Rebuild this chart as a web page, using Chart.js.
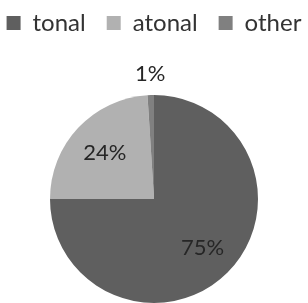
<!DOCTYPE html>
<html>
<head>
<meta charset="utf-8">
<script src="https://cdn.jsdelivr.net/npm/chart.js@4"></script>
<style>
  html, body { margin: 0; padding: 0; background: #fff; }
  #wrap { width: 308px; height: 303px; }
</style>
</head>
<body>
<div id="wrap"><canvas id="pieChart" width="308" height="303"></canvas></div>
<script>
// data
const categories = ["tonal", "atonal", "other"];
const shares = [75, 24, 1];
const sliceColors = ["#5f5f5f", "#b1b1b1", "#808080"];

// make the legend box taller so the pie starts lower down
const tallLegend = {
  id: "tallLegend",
  beforeInit(chart) {
    const fit = chart.legend.fit;
    chart.legend.fit = function () {
      fit.call(this);
      this.height = 105;
    };
  }
};

// draws the % labels on (or just outside) each slice
const sliceLabels = {
  id: "sliceLabels",
  afterDatasetsDraw(chart) {
    const ctx = chart.ctx;
    const meta = chart.getDatasetMeta(0);
    const radiusFactor = [0.66, 0.65, 1.2]; // where the label sits, as part of the radius
    ctx.save();
    ctx.font = "22px Lato, 'Open Sans', sans-serif";
    ctx.fillStyle = "#262626";
    ctx.textAlign = "center";
    ctx.textBaseline = "middle";
    meta.data.forEach((arc, i) => {
      const p = arc.getProps(["x", "y", "startAngle", "endAngle", "outerRadius"], true);
      const mid = (p.startAngle + p.endAngle) / 2;
      const r = p.outerRadius * radiusFactor[i];
      ctx.fillText(shares[i] + "%", p.x + Math.cos(mid) * r, p.y + Math.sin(mid) * r);
    });
    ctx.restore();
  }
};

new Chart(document.getElementById("pieChart"), {
  type: "pie",
  data: {
    labels: categories,
    datasets: [{
      data: shares,
      backgroundColor: sliceColors,
      borderWidth: 0
    }]
  },
  options: {
    responsive: false,
    animation: false,
    layout: { padding: { top: -10, bottom: 0, left: -24, right: -24 } },
    plugins: {
      tooltip: { enabled: false },
      legend: {
        position: "top",
        labels: {
          color: "#333333",
          font: { size: 24, family: "Lato, 'Open Sans', sans-serif" },
          boxWidth: 14,
          boxHeight: 14,
          padding: 21
        }
      }
    }
  },
  plugins: [tallLegend, sliceLabels]
});
</script>
</body>
</html>
